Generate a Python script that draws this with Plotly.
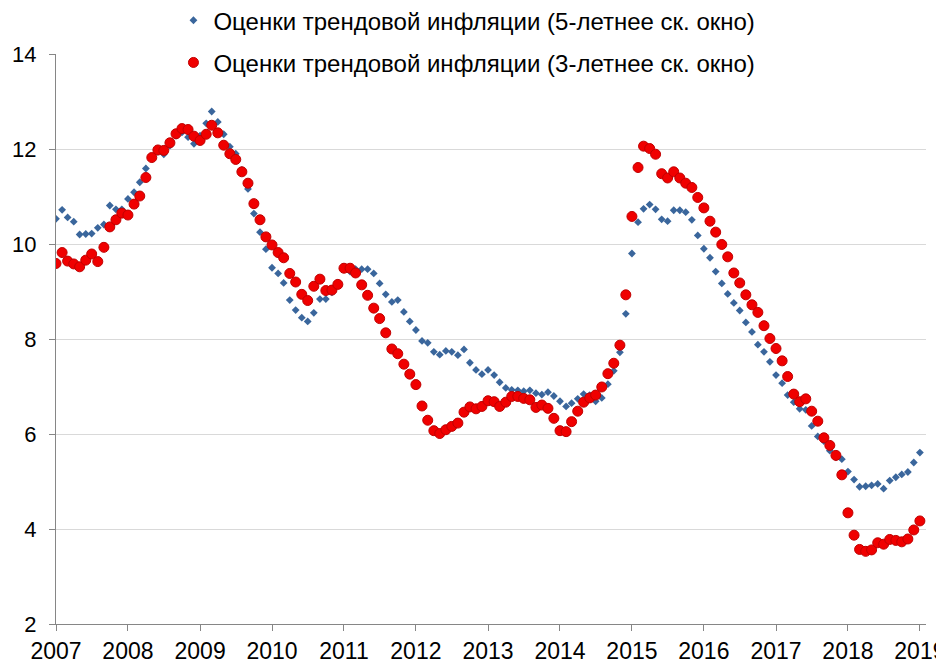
import pandas as pd
import plotly.graph_objects as go

# Monthly observations, Jan 2007 .. Jan 2019
months = pd.date_range("2007-01-01", periods=145, freq="MS")

trend_5y = [
    10.53, 10.72, 10.56, 10.47, 10.20, 10.21, 10.22, 10.34, 10.41, 10.81, 10.73, 10.73,
    10.95, 11.09, 11.30, 11.59, 11.80, 11.94, 11.89, 12.07, 12.28, 12.35, 12.25, 12.11,
    12.28, 12.54, 12.79, 12.57, 12.31, 12.05, 11.90, 11.56, 11.16, 10.64, 10.25, 9.89,
    9.50, 9.38, 9.18, 8.82, 8.61, 8.45, 8.37, 8.55, 8.84, 8.84, 8.98, 9.18,
    9.52, 9.42, 9.47, 9.47, 9.47, 9.38, 9.17, 8.94, 8.78, 8.82, 8.57, 8.37,
    8.19, 7.96, 7.92, 7.73, 7.67, 7.75, 7.73, 7.66, 7.78, 7.50, 7.35, 7.26,
    7.35, 7.24, 7.09, 6.97, 6.93, 6.92, 6.90, 6.92, 6.86, 6.83, 6.88, 6.80,
    6.69, 6.58, 6.65, 6.74, 6.84, 6.82, 6.69, 6.76, 7.05, 7.33, 7.72, 8.53,
    9.80, 10.46, 10.74, 10.83, 10.73, 10.52, 10.48, 10.71, 10.71, 10.67, 10.51, 10.18,
    9.90, 9.71, 9.42, 9.17, 8.95, 8.76, 8.60, 8.35, 8.15, 7.88, 7.73, 7.52,
    7.24, 7.07, 6.82, 6.67, 6.53, 6.51, 6.17, 5.95, 5.85, 5.65, 5.51, 5.47,
    5.21, 5.04, 4.89, 4.90, 4.92, 4.95, 4.85, 5.02, 5.09, 5.15, 5.20, 5.40,
    5.61,
]

trend_3y = [
    9.59, 9.82, 9.64, 9.58, 9.52, 9.66, 9.79, 9.63, 9.93, 10.36, 10.51, 10.65,
    10.61, 10.84, 11.01, 11.40, 11.82, 11.98, 11.97, 12.13, 12.32, 12.43, 12.41, 12.27,
    12.18, 12.31, 12.50, 12.34, 12.08, 11.90, 11.78, 11.52, 11.28, 10.85, 10.51, 10.15,
    9.98, 9.82, 9.71, 9.38, 9.20, 8.94, 8.81, 9.11, 9.26, 9.02, 9.03, 9.15,
    9.49, 9.49, 9.39, 9.14, 8.92, 8.65, 8.43, 8.13, 7.79, 7.69, 7.47, 7.26,
    7.04, 6.59, 6.29, 6.07, 6.01, 6.09, 6.16, 6.23, 6.46, 6.57, 6.53, 6.58,
    6.70, 6.68, 6.58, 6.67, 6.79, 6.79, 6.75, 6.72, 6.56, 6.61, 6.54, 6.33,
    6.07, 6.05, 6.26, 6.48, 6.67, 6.76, 6.82, 6.99, 7.27, 7.49, 7.87, 8.93,
    10.58, 11.61, 12.06, 12.01, 11.89, 11.48, 11.39, 11.52, 11.39, 11.28, 11.19, 10.98,
    10.76, 10.48, 10.25, 9.99, 9.73, 9.39, 9.18, 8.93, 8.72, 8.56, 8.28, 8.01,
    7.80, 7.54, 7.21, 6.84, 6.68, 6.74, 6.48, 6.27, 5.92, 5.76, 5.55, 5.14,
    4.34, 3.87, 3.57, 3.53, 3.56, 3.71, 3.68, 3.78, 3.76, 3.73, 3.79, 3.98,
    4.17,
]

name_5y = "Оценки трендовой инфляции (5-летнее ск. окно)"
name_3y = "Оценки трендовой инфляции (3-летнее ск. окно)"

FONT = "Liberation Sans, Arial, sans-serif"

fig = go.Figure()
fig.add_trace(go.Scatter(
    x=months, y=trend_5y, mode="markers", name=name_5y, legendgroup="a",
    marker=dict(symbol="diamond", size=6, color="#3A669C"),
))
fig.add_trace(go.Scatter(
    x=months, y=trend_3y, mode="markers", name=name_3y, legendgroup="b",
    marker=dict(symbol="circle", size=10, color="#F00000",
                line=dict(color="#C00000", width=1)),
))

fig.update_layout(
    width=944, height=664,
    margin=dict(l=48, r=26, t=46, b=48, autoexpand=False),
    paper_bgcolor="white", plot_bgcolor="white",
    font=dict(family=FONT, size=24, color="#000000"),
    showlegend=True,
    legend=dict(
        x=0.135, xanchor="left", y=1.098, yanchor="top",
        bgcolor="rgba(0,0,0,0)", font=dict(size=24),
        traceorder="grouped", tracegroupgap=8,
    ),
    xaxis=dict(
        type="date",
        range=["2007-01-01", "2019-02-01"],
        tick0="2007-01-01", dtick="M12", tickformat="%Y",
        showgrid=False, showline=True, linecolor="#868686", linewidth=1,
        ticks="outside", ticklen=6, tickcolor="#868686",
        tickfont=dict(size=23), automargin=False,
    ),
    yaxis=dict(
        range=[2, 14], dtick=2, tick0=2,
        showgrid=True, gridcolor="#D9D9D9", gridwidth=1,
        showline=True, linecolor="#868686", linewidth=1,
        ticks="outside", ticklen=6, tickcolor="#868686",
        zeroline=False, tickfont=dict(size=22), automargin=False,
        ticklabelstandoff=8,
    ),
)

fig.write_html("out.html")
